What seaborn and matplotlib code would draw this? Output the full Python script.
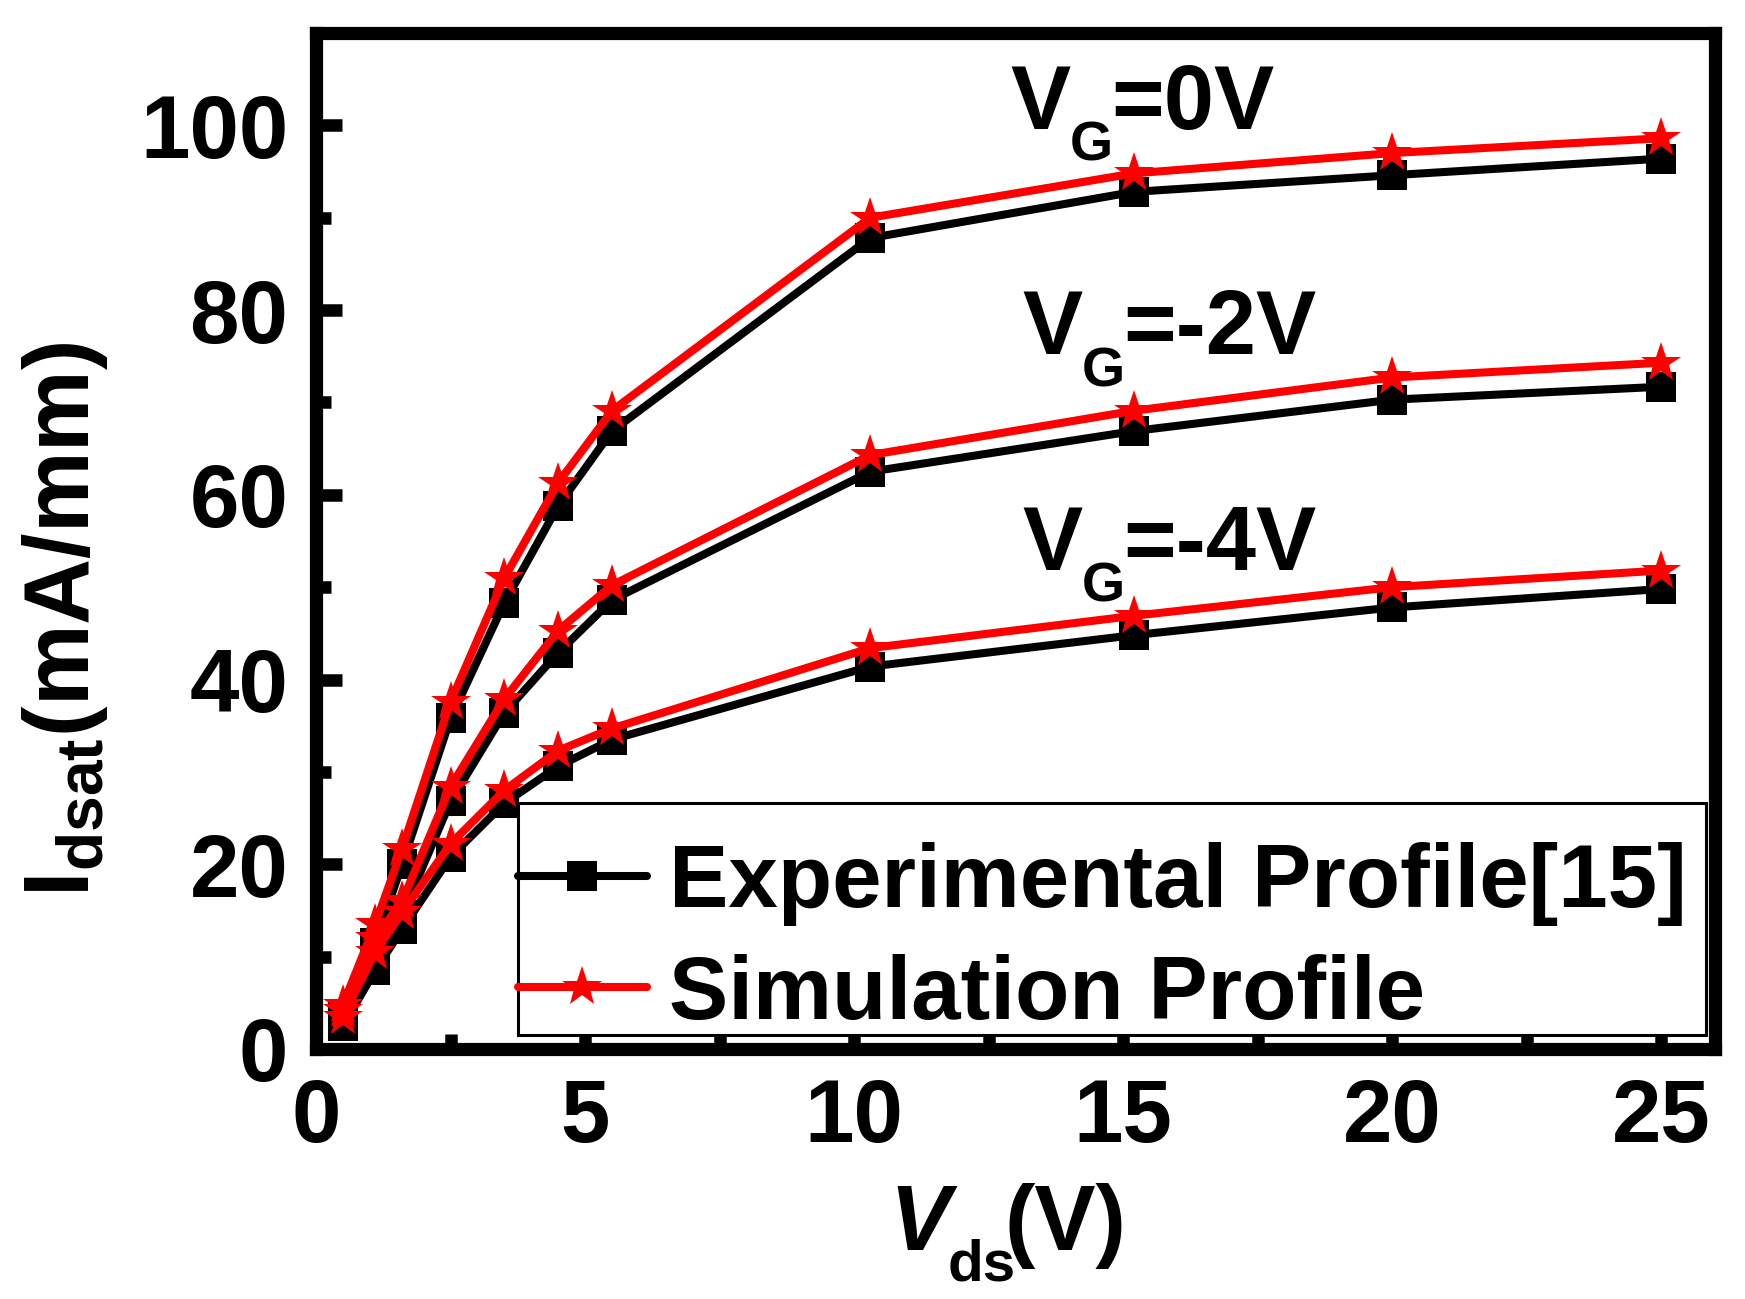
import pandas as pd
import seaborn as sns
from matplotlib import pyplot as plt
from matplotlib.lines import Line2D
from matplotlib.patches import Rectangle
from matplotlib.ticker import MultipleLocator

vds = [0.5, 1.1, 1.6, 2.5, 3.5, 4.5, 5.5, 10.3, 15.2, 20, 25]

# experimental (black squares) and simulation (red stars), mA/mm
exp_vg0 = [3.5, 11.5, 20.0, 35.8, 48.3, 58.8, 66.9, 87.8, 92.8, 94.6, 96.4]
sim_vg0 = [4.8, 13.5, 21.7, 37.6, 51.0, 61.3, 69.1, 90.0, 94.8, 97.0, 98.6]
exp_vg2 = [3.0, 10.0, 14.5, 26.8, 36.4, 42.9, 48.6, 62.5, 66.9, 70.3, 71.7]
sim_vg2 = [4.2, 12.0, 16.0, 28.4, 37.9, 45.3, 50.2, 64.3, 69.1, 72.7, 74.3]
exp_vg4 = [2.5, 8.5, 13.0, 20.8, 26.6, 30.6, 33.5, 41.4, 44.8, 47.8, 49.8]
sim_vg4 = [3.5, 10.5, 14.8, 22.2, 28.0, 32.3, 34.7, 43.4, 46.9, 50.0, 51.8]

gate_labels = ['0V', '-2V', '-4V']
label_pos = [(12.9, 99.6), (13.12, 75.2), (13.12, 51.9)]

sns.set_style('white')
plt.rcParams['font.family'] = ['Liberation Sans', 'DejaVu Sans']
plt.rcParams['font.weight'] = 'bold'
plt.rcParams['text.color'] = 'black'
plt.rcParams['axes.labelcolor'] = 'black'
plt.rcParams['xtick.color'] = 'black'
plt.rcParams['ytick.color'] = 'black'
plt.rcParams['mathtext.fontset'] = 'custom'
plt.rcParams['mathtext.rm'] = 'Liberation Sans:bold'
plt.rcParams['mathtext.bf'] = 'Liberation Sans:bold'
plt.rcParams['mathtext.it'] = 'Liberation Sans:bold:italic'

fig = plt.figure(figsize=(17.45, 12.99), dpi=100)
ax = fig.add_axes([0.1811, 0.1925, 0.8017, 0.7821])

for ys in [exp_vg0, exp_vg2, exp_vg4]:
    df = pd.DataFrame({'Vds': vds, 'I': ys})
    sns.lineplot(data=df, x='Vds', y='I', ax=ax, color='black', lw=5.8,
                 marker='s', markersize=21, markeredgewidth=0,
                 estimator=None, zorder=3)
for ys in [sim_vg0, sim_vg2, sim_vg4]:
    df = pd.DataFrame({'Vds': vds, 'I': ys})
    sns.lineplot(data=df, x='Vds', y='I', ax=ax, color='#ff0000', lw=5.8,
                 marker='*', markersize=30, markeredgewidth=0,
                 estimator=None, zorder=4)

ax.set_xlim(0, 26)
ax.set_ylim(0, 110)
ax.xaxis.set_major_locator(MultipleLocator(5))
ax.xaxis.set_minor_locator(MultipleLocator(2.5))
ax.yaxis.set_major_locator(MultipleLocator(20))
ax.yaxis.set_minor_locator(MultipleLocator(10))
ax.tick_params(which='both', direction='in', top=False, right=False,
               bottom=True, left=True, labelsize=64, pad=20, width=9)
ax.tick_params(which='major', length=19)
ax.tick_params(which='minor', length=11)
for t in ax.get_xticklabels() + ax.get_yticklabels():
    t.set_fontweight('bold')

for sp in ax.spines.values():
    sp.set_linewidth(9.5)
    sp.set_color('black')
    sp.set_capstyle('projecting')

ax.set_xlabel('')
ax.set_ylabel(r'I$_{\mathbf{dsat}}$(mA/mm)', fontsize=66, fontweight='bold')
ax.yaxis.set_label_coords(-0.147, 0.423)

# x label built from pieces so the subscript sits low like the original
ax.annotate('V', (0.410, -0.198), xycoords='axes fraction', fontsize=66,
            fontweight='bold', style='italic', va='baseline', ha='left',
            annotation_clip=False)
ax.annotate('ds', (0.410, -0.198), xycoords='axes fraction', xytext=(42, -22),
            textcoords='offset points', fontsize=42, fontweight='bold',
            va='baseline', ha='left', annotation_clip=False)
ax.annotate('(V)', (0.410, -0.198), xycoords='axes fraction', xytext=(83, 0),
            textcoords='offset points', fontsize=66, fontweight='bold',
            va='baseline', ha='left', annotation_clip=False)

for lab, (lx, ly) in zip(gate_labels, label_pos):
    ax.annotate('V', (lx, ly), fontsize=65, fontweight='bold', va='baseline', ha='left')
    ax.annotate('G', (lx, ly), xytext=(43, -23), textcoords='offset points',
                fontsize=40, fontweight='bold', va='baseline', ha='left')
    ax.annotate('=' + lab, (lx, ly), xytext=(73, 0), textcoords='offset points',
                fontsize=65, fontweight='bold', va='baseline', ha='left')

# legend frame drawn separately, content placed inside it
ax.add_patch(Rectangle((0.1444, 0.0138), 0.8492, 0.2283, transform=ax.transAxes,
                       facecolor='white', edgecolor='black', lw=2.2, zorder=5))
handles = [
    Line2D([], [], color='black', lw=5.8, marker='s', markersize=21, markeredgewidth=0),
    Line2D([], [], color='#ff0000', lw=5.8, marker='*', markersize=30, markeredgewidth=0),
]
leg = ax.legend(handles, ['Experimental Profile[15]', 'Simulation Profile'],
                loc='upper left', bbox_to_anchor=(0.1444, 0.2037), borderaxespad=0,
                fontsize=64, frameon=False, handlelength=1.45, handletextpad=0.25,
                borderpad=0, labelspacing=0.31)
leg.set_zorder(6)
for t in leg.get_texts():
    t.set_fontweight('bold')

fig.savefig('out.png', dpi=100)
